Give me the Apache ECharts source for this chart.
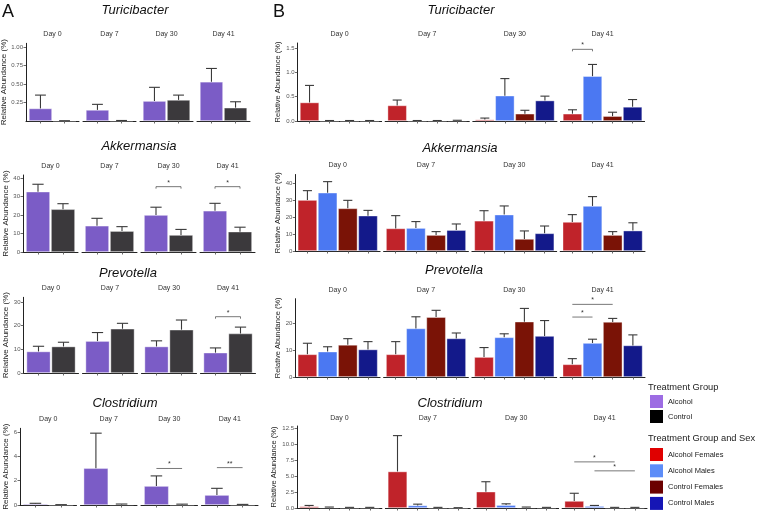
<!DOCTYPE html>
<html><head><meta charset="utf-8">
<script src="https://cdn.jsdelivr.net/npm/echarts@6/dist/echarts.min.js"></script>
<style>html,body{margin:0;padding:0;background:#fff}#c{width:757px;height:515px}</style>
</head><body><div id="c"></div>
<script>
// ---------------- DATA ----------------
const days = ['Day 0', 'Day 7', 'Day 30', 'Day 41'];
const genera = ['Turicibacter', 'Akkermansia', 'Prevotella', 'Clostridium'];
const groupsA = ['Alcohol', 'Control'];
const groupsB = ['Alcohol Females', 'Alcohol Males', 'Control Females', 'Control Males'];

// Panel A: [group][day]
const turicibacterA_mean  = [[0.17, 0.15, 0.27, 0.53], [0.003, 0.004, 0.285, 0.18]];
const turicibacterA_upper = [[0.35, 0.225, 0.455, 0.71], [0.004, 0.007, 0.35, 0.26]];
const akkermansiaA_mean   = [[32.6, 14.2, 20.0, 22.3], [23.1, 11.3, 9.2, 11.0]];
const akkermansiaA_upper  = [[36.6, 18.2, 24.2, 26.3], [26.1, 13.7, 12.2, 13.4]];
const prevotellaA_mean    = [[9.1, 13.5, 11.2, 8.6], [11.2, 18.7, 18.3, 16.7]];
const prevotellaA_upper   = [[11.3, 17.1, 13.6, 10.6], [13.0, 21.0, 22.4, 19.4]];
const clostridiumA_mean   = [[0.1, 3.02, 1.56, 0.82], [0.02, 0.05, 0.03, 0.02]];
const clostridiumA_upper  = [[0.14, 5.9, 2.39, 1.37], [0.03, 0.08, 0.07, 0.05]];

// Panel B: [group][day]
const turicibacterB_mean  = [[0.38, 0.32, 0.03, 0.15], [0.005, 0.005, 0.52, 0.92], [0.005, 0.005, 0.15, 0.10], [0.005, 0.01, 0.42, 0.29]];
const turicibacterB_upper = [[0.73, 0.43, 0.06, 0.23], [0.01, 0.01, 0.87, 1.16], [0.01, 0.01, 0.22, 0.18], [0.01, 0.015, 0.51, 0.44]];
const akkermansiaB_mean   = [[30.0, 13.3, 17.8, 17.1], [34.3, 13.5, 21.4, 26.5], [25.1, 9.4, 7.1, 9.4], [20.8, 12.3, 10.4, 12.0]];
const akkermansiaB_upper  = [[35.5, 20.8, 23.7, 21.4], [40.8, 17.3, 26.5, 32.0], [29.8, 11.4, 11.8, 11.4], [23.9, 15.9, 14.7, 16.6]];
const prevotellaB_mean    = [[8.4, 8.4, 7.4, 4.7], [9.4, 18.0, 14.7, 12.6], [11.9, 22.2, 20.5, 20.4], [10.2, 14.3, 15.2, 11.7]];
const prevotellaB_upper   = [[12.5, 13.1, 10.9, 6.8], [11.2, 22.3, 16.0, 14.0], [14.2, 24.7, 25.4, 21.7], [13.1, 16.3, 20.9, 15.6]];
const clostridiumB_mean   = [[0.25, 5.7, 2.55, 1.1], [0.1, 0.4, 0.45, 0.3], [0.05, 0.05, 0.1, 0.05], [0.05, 0.02, 0.05, 0.05]];
const clostridiumB_upper  = [[0.4, 11.3, 4.1, 2.3], [0.15, 0.6, 0.65, 0.4], [0.1, 0.1, 0.15, 0.1], [0.1, 0.05, 0.1, 0.1]];

// y axes: max and tick labels per genus row
const yMaxA = [1.05, 41.6, 32, 6.3];
const yTicksA = [[0.25, 0.5, 0.75, 1.0], [0, 10, 20, 30, 40], [0, 10, 20, 30], [0, 2, 4, 6]];
const yDecA = [2, 0, 0, 0];
const yMaxB = [1.6, 45, 29, 12.8];
const yTicksB = [[0, 0.5, 1.0, 1.5], [0, 10, 20, 30, 40], [0, 10, 20], [0, 2.5, 5.0, 7.5, 10.0, 12.5]];
const yDecB = [1, 0, 0, 1];

// significance brackets: row, day index, from/to group (1-based), y value, label
const bracketsA = [
  [1, 2, 1, 2, 35.3, '*'], [1, 3, 1, 2, 35.3, '*'],
  [2, 3, 1, 2, 23.8, '*'],
  [3, 2, 1, 2, 3.0, '*'], [3, 3, 1, 2, 3.07, '**']
];
const bracketsB = [
  [0, 3, 1, 2, 1.47, '*'],
  [2, 3, 1, 3, 26.9, '*'], [2, 3, 1, 2, 22.2, '*'],
  [3, 3, 1, 3, 7.2, '*'], [3, 3, 2, 4, 5.8, '*']
];

// ---------------- STYLE / LAYOUT ----------------
const FONT = 'Liberation Sans, Arial, Helvetica, sans-serif';
const barColorsA = ['#7b5cc6', '#3b393c'];
const barColorsB = ['#c0232a', '#4b78f2', '#7a1306', '#13198a'];
const legendColorsA = ['#9d6ce3', '#000000'];
const legendColorsB = ['#e00000', '#5d8df8', '#6b0000', '#1515b5'];

const layoutA = [
  {left: 26, right: 250, top: 43.3, zero: 121, tx: 135, ty: 10, sy: 34, nameGap: 16},
  {left: 23, right: 255, top: 175, zero: 252, tx: 139, ty: 146, sy: 166, nameGap: 13},
  {left: 23.5, right: 255.5, top: 297.3, zero: 373, tx: 128, ty: 273, sy: 288, nameGap: 13.5},
  {left: 20, right: 258, top: 428.3, zero: 505, tx: 125, ty: 403, sy: 419, nameGap: 10}
];
const layoutB = [
  {left: 297.5, right: 644.6, top: 43, zero: 121, tx: 461, ty: 10, sy: 34, nameGap: 14.5},
  {left: 295.3, right: 645, top: 174.5, zero: 251, tx: 460, ty: 148, sy: 165, nameGap: 12.3},
  {left: 295.3, right: 645, top: 298.7, zero: 377, tx: 454, ty: 270, sy: 290, nameGap: 12.3},
  {left: 297, right: 647, top: 426, zero: 508, tx: 450, ty: 403, sy: 418, nameGap: 14}
];

const meansA = [turicibacterA_mean, akkermansiaA_mean, prevotellaA_mean, clostridiumA_mean];
const uppersA = [turicibacterA_upper, akkermansiaA_upper, prevotellaA_upper, clostridiumA_upper];
const meansB = [turicibacterB_mean, akkermansiaB_mean, prevotellaB_mean, clostridiumB_mean];
const uppersB = [turicibacterB_upper, akkermansiaB_upper, prevotellaB_upper, clostridiumB_upper];

const grids = [], xAxes = [], yAxes = [], series = [], titles = [];

function textTitle(text, x, y, size, extra) {
  titles.push(Object.assign({
    text: text, left: x, top: y, padding: 0, textAlign: 'center', textVerticalAlign: 'middle',
    textStyle: Object.assign({fontFamily: FONT, fontSize: size, fontWeight: 'normal', color: '#1a1a1a'}, extra || {})
  }));
}

function buildPanel(groups, layout, means, uppers, yMax, yTicks, yDec, barColors, brackets, gap, nameSize, tickRows) {
  const nG = groups.length;
  for (let r = 0; r < 4; r++) {
    const L = layout[r];
    const W = (L.right - L.left - 3 * gap) / 4;
    const unit = W / (nG + 0.2);
    textTitle(genera[r], L.tx, L.ty, 13, {fontStyle: 'italic', color: '#111'});
    for (let d = 0; d < 4; d++) {
      const gi = grids.length;
      const left = L.left + d * (W + gap);
      grids.push({left: left, top: L.top, width: W, height: L.zero - L.top, containLabel: false, outerBoundsMode: 'none'});
      textTitle(days[d], left + W / 2, L.sy, 7, {color: '#333'});
      const ticksX = groups.map((g, i) => i + 1);
      xAxes.push({
        type: 'value', gridIndex: gi, min: 0.4, max: nG + 0.6,
        axisLine: {show: true, onZero: false, lineStyle: {color: '#222', width: 1}},
        axisTick: {show: true, customValues: ticksX, length: 2.5, lineStyle: {color: '#444', width: 0.8}},
        axisLabel: {show: false}, splitLine: {show: false}
      });
      const dec = yDec[r];
      yAxes.push({
        type: 'value', gridIndex: gi, min: 0, max: yMax[r], show: d === 0,
        axisLine: {show: true, lineStyle: {color: '#222', width: 1}},
        axisTick: {show: true, customValues: yTicks[r], length: 2.5, lineStyle: {color: '#444', width: 0.8}},
        axisLabel: {show: true, customValues: yTicks[r], formatter: v => Number(v).toFixed(dec), fontSize: 6, color: '#555', fontFamily: FONT, margin: 3},
        splitLine: {show: false},
        name: d === 0 ? 'Relative Abundance (%)' : '', nameLocation: 'middle', nameGap: L.nameGap, nameRotate: 90,
        nameTextStyle: {fontFamily: FONT, fontSize: nameSize, color: '#222'}
      });
      // bars
      groups.forEach((g, k) => {
        series.push({
          type: 'bar', name: g, xAxisIndex: gi, yAxisIndex: gi, stack: 'f' + gi,
          barWidth: unit * 0.96, silent: true,
          itemStyle: {color: barColors[k], borderColor: 'rgba(255,255,255,0.55)', borderWidth: 0.7},
          data: [[k + 1, means[r][k][d]]], z: 2
        });
      });
      // error bars
      const errData = groups.map((g, k) => [k + 1, means[r][k][d], uppers[r][k][d]]);
      series.push({
        type: 'custom', xAxisIndex: gi, yAxisIndex: gi, silent: true, z: 3,
        encode: {x: 0, y: [1, 2]},
        data: errData,
        renderItem: function (params, api) {
          const x = api.value(0), m = api.value(1), u = api.value(2);
          const p0 = api.coord([x, m]), p1 = api.coord([x, u]);
          const cw = api.size([1, 0])[0] * 0.45;
          const st = {stroke: '#3a3a3a', lineWidth: 1.1};
          return {type: 'group', children: [
            {type: 'line', shape: {x1: p0[0], y1: p0[1], x2: p1[0], y2: p1[1]}, style: st},
            {type: 'line', shape: {x1: p1[0] - cw / 2, y1: p1[1], x2: p1[0] + cw / 2, y2: p1[1]}, style: st}
          ]};
        }
      });
      // significance brackets
      brackets.filter(b => b[0] === r && b[1] === d).forEach(b => {
        const label = b[5];
        const tick = tickRows.indexOf(r) >= 0 ? 2 : 0;
        series.push({
          type: 'custom', xAxisIndex: gi, yAxisIndex: gi, silent: true, z: 4,
          data: [[b[2], b[3], b[4]]],
          renderItem: function (params, api) {
            const a = api.coord([api.value(0), api.value(2)]);
            const c = api.coord([api.value(1), api.value(2)]);
            return {type: 'group', children: [
              {type: 'polyline', shape: {points: [[a[0], a[1] + tick], [a[0], a[1]], [c[0], c[1]], [c[0], c[1] + tick]]},
               style: {stroke: '#555', lineWidth: 0.8, fill: null}},
              {type: 'text', x: (a[0] + c[0]) / 2, y: a[1] - 4,
               style: {text: label, fontSize: 7, fontFamily: FONT, fill: '#333', align: 'center', verticalAlign: 'middle'}}
            ]};
          }
        });
      });
    }
  }
}

buildPanel(groupsA, layoutA, meansA, uppersA, yMaxA, yTicksA, yDecA, barColorsA, bracketsA, 4, 8, [1, 2]);
buildPanel(groupsB, layoutB, meansB, uppersB, yMaxB, yTicksB, yDecB, barColorsB, bracketsB, 3.5, 7.5, [0]);

// panel letters
textTitle('A', 8, 12, 18, {color: '#111'});
textTitle('B', 279, 12, 18, {color: '#111'});
// legend headers
titles.push({text: 'Treatment Group', left: 648, top: 387, padding: 0, textAlign: 'left', textVerticalAlign: 'middle',
  textStyle: {fontFamily: FONT, fontSize: 9.3, fontWeight: 'normal', color: '#222'}});
titles.push({text: 'Treatment Group and Sex', left: 648, top: 438, padding: 0, textAlign: 'left', textVerticalAlign: 'middle',
  textStyle: {fontFamily: FONT, fontSize: 9.3, fontWeight: 'normal', color: '#222'}});

const legendText = {fontFamily: FONT, fontSize: 7.5, color: '#222'};
const option = {
  animation: false,
  backgroundColor: '#ffffff',
  title: titles,
  grid: grids,
  xAxis: xAxes,
  yAxis: yAxes,
  legend: [
    {orient: 'vertical', left: 650, top: 395, padding: 0, itemWidth: 13, itemHeight: 13, itemGap: 2, icon: 'rect',
     selectedMode: false, textStyle: legendText,
     data: groupsA.map((g, i) => ({name: g, itemStyle: {color: legendColorsA[i], borderWidth: 0}}))},
    {orient: 'vertical', left: 650, top: 448, padding: 0, itemWidth: 13, itemHeight: 13, itemGap: 3.3, icon: 'rect',
     selectedMode: false, textStyle: legendText,
     data: groupsB.map((g, i) => ({name: g, itemStyle: {color: legendColorsB[i], borderWidth: 0}}))}
  ],
  series: series
};

const chart = echarts.init(document.getElementById('c'), null, {renderer: 'canvas'});
chart.setOption(option);
</script>
</body></html>
